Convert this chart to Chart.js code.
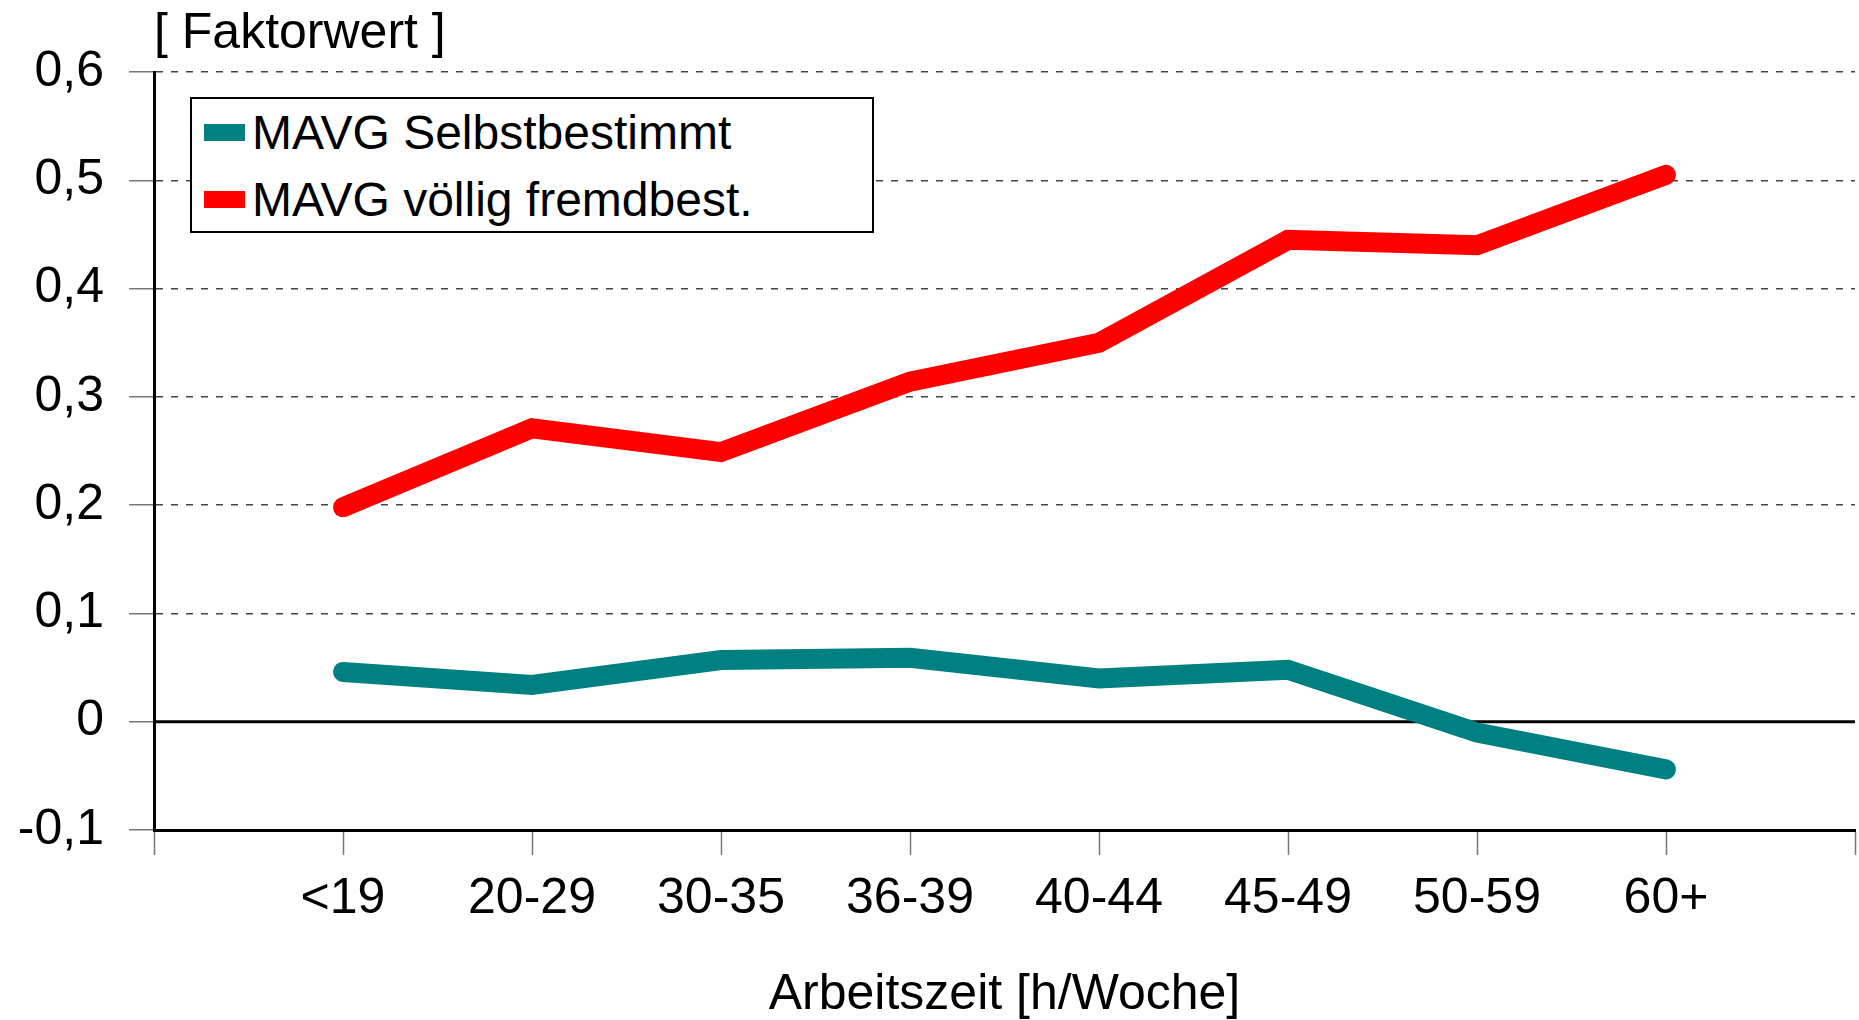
<!DOCTYPE html>
<html lang="de">
<head>
<meta charset="utf-8">
<title>Faktorwert nach Arbeitszeit</title>
<script src="https://cdn.jsdelivr.net/npm/chart.js@4.4.1/dist/chart.umd.min.js"></script>
<style>
  html, body { margin: 0; padding: 0; background: #fff; }
  .box { position: relative; width: 1859px; height: 1020px; }
  .legend {
    position: absolute; left: 190px; top: 97px; width: 684px; height: 136px;
    box-sizing: border-box; border: 2px solid #000; background: #fff;
    font-family: "Liberation Sans", Arial, sans-serif; font-size: 48px; color: #000;
  }
  .legend p { margin: 0; height: 67px; display: flex; align-items: center; padding-left: 12px; white-space: nowrap; }
  .legend .color { display: inline-block; width: 41px; height: 17px; margin-right: 7px; }
</style>
</head>
<body>
<div class="box">
  <canvas id="chart"></canvas>
  <div class="legend" id="legend"></div>
</div>
<script>
const categories = ["<19", "20-29", "30-35", "36-39", "40-44", "45-49", "50-59", "60+"];
const selbstbestimmt = [0.046, 0.034, 0.057, 0.059, 0.040, 0.048, -0.010, -0.044];
const fremdbestimmt = [0.198, 0.271, 0.249, 0.314, 0.350, 0.445, 0.440, 0.505];
const seriesNames = ["MAVG Selbstbestimmt", "MAVG völlig fremdbest."];
const seriesColors = ["#008080", "#ff0000"];

const FONT = "'Liberation Sans', Arial, sans-serif";

// empty slot on each side, like the original axis
const labels = ["", ...categories, ""];
const pad = (arr) => [null, ...arr, null];

const zeroLine = {
  id: "zeroLine",
  beforeDatasetsDraw(chart) {
    const { ctx, chartArea, scales } = chart;
    const y = scales.y.getPixelForValue(0);
    ctx.save();
    ctx.strokeStyle = "#000";
    ctx.lineWidth = 3;
    ctx.beginPath();
    ctx.moveTo(chartArea.left, y);
    ctx.lineTo(chartArea.right, y);
    ctx.stroke();
    ctx.restore();
  },
};

const ctx = document.getElementById("chart").getContext("2d");

const chart = new Chart(ctx, {
  type: "line",
  data: {
    labels: labels,
    datasets: [
      {
        label: seriesNames[0],
        data: pad(selbstbestimmt),
        borderColor: seriesColors[0],
        backgroundColor: seriesColors[0],
      },
      {
        label: seriesNames[1],
        data: pad(fremdbestimmt),
        borderColor: seriesColors[1],
        backgroundColor: seriesColors[1],
      },
    ],
  },
  options: {
    responsive: true,
    maintainAspectRatio: false,
    animation: false,
    events: [],
    datasets: {
      line: {
        borderWidth: 20,
        pointRadius: 0,
        tension: 0,
        borderCapStyle: "round",
        borderJoinStyle: "miter",
      },
    },
    layout: { padding: { left: 0, right: 4, top: 0, bottom: 0 } },
    plugins: {
      legend: { display: false },
      tooltip: { enabled: false },
      title: {
        display: true,
        text: "[ Faktorwert ]",
        align: "start",
        fullSize: false,
        color: "#000",
        font: { family: FONT, size: 50, weight: "normal", lineHeight: 1.2 },
        padding: { top: 4, bottom: 8 },
      },
    },
    scales: {
      x: {
        offset: false,
        // first/last slots are empty, no side padding needed
        afterFit: (scale) => { scale.paddingLeft = 0; scale.paddingRight = 0; },
        grid: {
          drawOnChartArea: false,
          drawTicks: true,
          tickLength: 25,
          tickColor: "#777",
          tickWidth: 1.5,
        },
        border: { display: true, color: "#000", width: 3 },
        ticks: {
          color: "#000",
          font: { family: FONT, size: 50, lineHeight: 1.2 },
          padding: 14,
          maxRotation: 0,
          autoSkip: false,
        },
        title: {
          display: true,
          text: "Arbeitszeit [h/Woche]",
          color: "#000",
          font: { family: FONT, size: 50, lineHeight: 1 },
          padding: { top: 27, bottom: 0 },
        },
      },
      y: {
        min: -0.1,
        max: 0.6,
        afterFit: (scale) => { scale.width = 154; },
        grid: {
          color: (c) => (Math.abs(c.tick.value) < 1e-9 ? "rgba(0,0,0,0)" : "#444"),
          lineWidth: 1.5,
          tickLength: 25,
          tickColor: "#777",
          tickWidth: 1.5,
        },
        border: { display: true, color: "#000", width: 3, dash: [7, 8] },
        ticks: {
          stepSize: 0.1,
          color: "#000",
          font: { family: FONT, size: 50 },
          padding: 25,
          callback: (v) => String(Math.round(v * 10) / 10).replace(".", ","),
        },
      },
    },
  },
  plugins: [zeroLine],
});

// legend box, built from the datasets
const legendEl = document.getElementById("legend");
chart.data.datasets.forEach((ds) => {
  const p = document.createElement("p");
  const sw = document.createElement("span");
  sw.className = "color";
  sw.style.backgroundColor = ds.borderColor;
  p.appendChild(sw);
  p.appendChild(document.createTextNode(ds.label));
  legendEl.appendChild(p);
});
</script>
</body>
</html>
